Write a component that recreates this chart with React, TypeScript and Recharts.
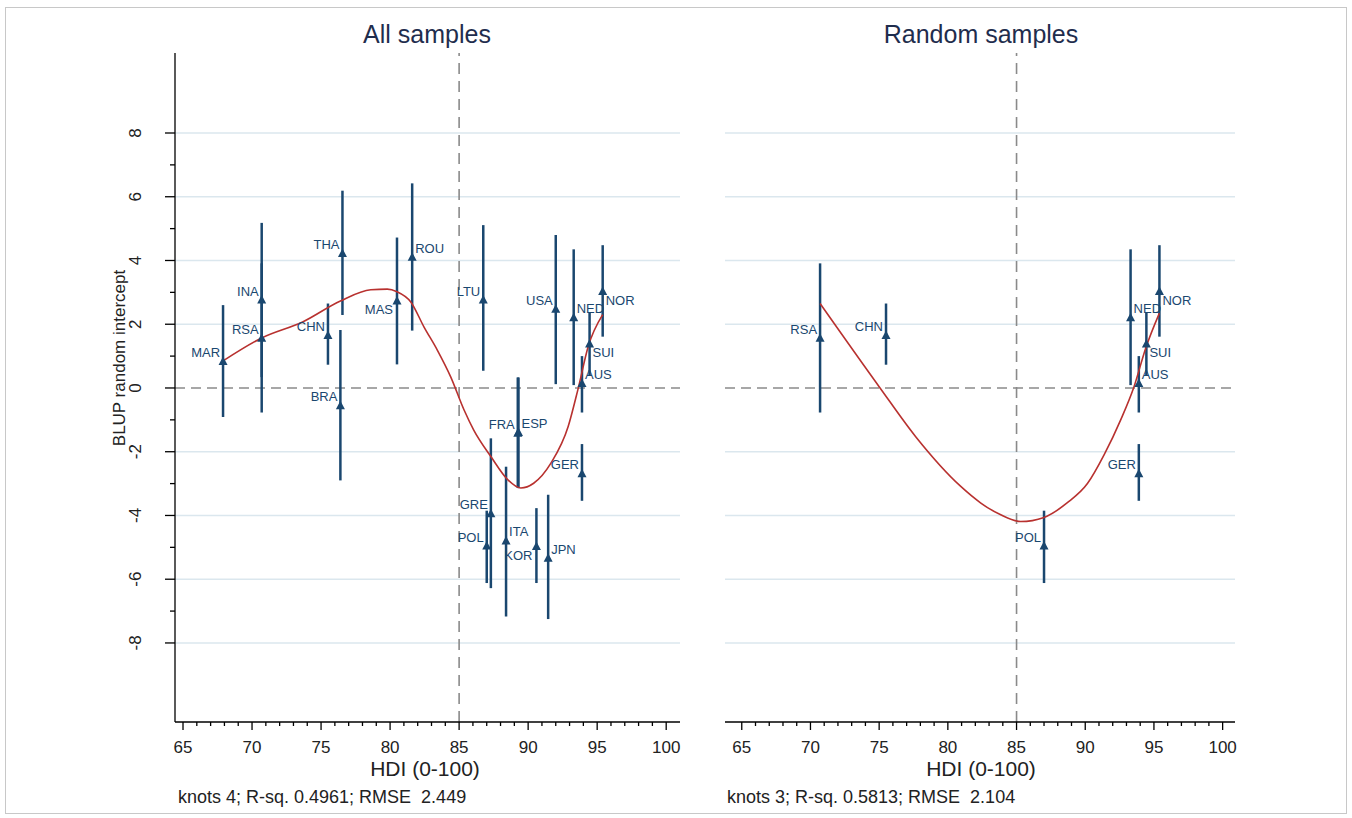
import React from 'react';
import { ComposedChart, XAxis, YAxis, Scatter, ErrorBar, Line, ReferenceLine } from 'recharts';

// ---------- data ----------
const countries = ['MAR', 'INA', 'RSA', 'CHN', 'THA', 'BRA', 'MAS', 'ROU', 'LTU', 'USA', 'NED', 'NOR', 'SUI', 'AUS', 'FRA', 'ESP', 'GER', 'GRE', 'POL', 'ITA', 'KOR', 'JPN'];
const hdi = [67.9, 70.7, 70.7, 75.5, 76.55, 76.4, 80.5, 81.6, 86.75, 92.0, 93.3, 95.4, 94.45, 93.9, 89.25, 89.3, 93.9, 87.3, 87.0, 88.4, 90.6, 91.45];
const blup = [0.83, 2.76, 1.56, 1.65, 4.22, -0.56, 2.73, 4.1, 2.76, 2.47, 2.2, 3.03, 1.38, 0.14, -1.42, -1.4, -2.69, -3.95, -4.96, -4.8, -4.97, -5.34];
const ciLower = [-0.91, 0.34, -0.77, 0.73, 2.29, -2.9, 0.74, 1.8, 0.54, 0.12, 0.09, 1.61, 0.38, -0.77, -3.14, -3.14, -3.54, -6.28, -6.12, -7.17, -6.12, -7.25];
const ciUpper = [2.6, 5.18, 3.91, 2.65, 6.19, 1.82, 4.72, 6.42, 5.11, 4.8, 4.35, 4.48, 2.38, 1.0, 0.33, 0.33, -1.76, -1.58, -3.85, -2.47, -3.77, -3.35];
const randomSampleCountries = ['RSA', 'CHN', 'NED', 'NOR', 'SUI', 'AUS', 'GER', 'POL'];

const curveAllHdi = [67.9, 70.7, 73.7, 76.4, 78.6, 79.8, 80.5, 81.5, 82.45, 83.42, 84.39, 85.36, 86.06, 87.3, 88.53, 89.47, 90.4, 91.65, 92.9, 93.6, 94.35, 95.4];
const curveAllFit = [0.85, 1.57, 2.08, 2.73, 3.08, 3.1, 3.02, 2.7, 1.92, 1.19, 0.35, -0.69, -1.32, -2.15, -2.88, -3.14, -2.99, -2.36, -1.21, -0.06, 1.3, 2.3];
const curveRandomHdi = [70.7, 75.0, 77.66, 80.94, 82.4, 83.85, 85.3, 87.0, 88.7, 90.16, 91.37, 92.58, 93.55, 94.4, 95.4];
const curveRandomFit = [2.65, 0.04, -1.53, -3.09, -3.61, -3.98, -4.19, -4.06, -3.6, -3.0, -2.1, -1.0, 0.04, 1.25, 2.35];

// label clock positions (Stata style)
const labelClock: Record<string, number> = {
  MAR: 10, INA: 10, RSA: 10, CHN: 10, THA: 10, BRA: 10, MAS: 8, ROU: 2, LTU: 10, USA: 10, NED: 2,
  NOR: 4, SUI: 4, AUS: 2, FRA: 10, ESP: 2, GER: 10, GRE: 10, POL: 10, ITA: 2, KOR: 8, JPN: 2,
};

const gridValues = [-8, -6, -4, -2, 2, 4, 6, 8];
const panelTitles = ['All samples', 'Random samples'];
const xTitle = 'HDI (0-100)';
const yTitle = 'BLUP random intercept';
const fitNotes = ['knots 4; R-sq. 0.4961; RMSE  2.449', 'knots 3; R-sq. 0.5813; RMSE  2.104'];

// ---------- derived ----------
const allPoints = countries.map((name, i) => ({
  name,
  x: hdi[i],
  y: blup[i],
  err: [blup[i] - ciLower[i], ciUpper[i] - blup[i]],
}));
const randomPoints = allPoints.filter((p) => randomSampleCountries.includes(p.name));
const curveAll = curveAllHdi.map((x, i) => ({ x, y: curveAllFit[i] }));
const curveRandom = curveRandomHdi.map((x, i) => ({ x, y: curveRandomFit[i] }));

const xTickValues: number[] = [];
for (let v = 65; v <= 100; v += 1) xTickValues.push(v);
const yTickValues: number[] = [];
for (let v = -8; v <= 8; v += 1) yTickValues.push(v);

// ---------- styles ----------
const FONT = "'Liberation Sans', Arial, Helvetica, sans-serif";
const NAVY = '#1a476f';
const RED = '#b8312f';
const GRID = '#dbe7ee';
const DASH = '#8a8a8a';
const Y_DOMAIN: [number, number] = [-10.48, 10.51];

const XTick = (props: any) => {
  const { x, y, payload } = props;
  const v = payload.value;
  const major = v % 5 === 0;
  return (
    <g>
      <line x1={x} x2={x} y1={y} y2={y + (major ? 8 : 4)} stroke="#000" strokeWidth={1.3} />
      {major && (
        <text x={x} y={y + 31} textAnchor="middle" fontSize={17} fill="#222" fontFamily={FONT}>
          {v}
        </text>
      )}
    </g>
  );
};

const YTick = (props: any) => {
  const { x, y, payload } = props;
  const v = payload.value;
  const major = v % 2 === 0;
  const lx = x - 39;
  return (
    <g>
      <line x1={x} x2={x - (major ? 10 : 5)} y1={y} y2={y} stroke="#000" strokeWidth={1.3} />
      {major && (
        <text
          x={lx}
          y={y}
          transform={`rotate(-90 ${lx} ${y})`}
          textAnchor="middle"
          dominantBaseline="central"
          fontSize={17}
          fill="#222"
          fontFamily={FONT}
        >
          {String(v)}
        </text>
      )}
    </g>
  );
};

const PointShape = (props: any) => {
  const { cx, cy, payload } = props;
  if (cx == null || cy == null) return null;
  const clock = labelClock[payload.name] ?? 10;
  let dx = -3;
  let dy = -9;
  let anchor: 'start' | 'end' = 'end';
  if (clock === 2) { dx = 3; dy = -9; anchor = 'start'; }
  else if (clock === 4) { dx = 3; dy = 9; anchor = 'start'; }
  else if (clock === 8) { dx = -4; dy = 9; anchor = 'end'; }
  return (
    <g>
      <polygon points={`${cx},${cy - 5} ${cx - 4.5},${cy + 3.5} ${cx + 4.5},${cy + 3.5}`} fill={NAVY} />
      <text
        x={cx + dx}
        y={cy + dy}
        textAnchor={anchor}
        dominantBaseline="central"
        fontSize={13}
        fill={NAVY}
        fontFamily={FONT}
      >
        {payload.name}
      </text>
    </g>
  );
};

type PanelProps = {
  points: any[];
  curve: any[];
  xDomain: [number, number];
  showYAxis: boolean;
  left: number;
  width: number;
  margin: { top: number; right: number; bottom: number; left: number };
};

const Panel = ({ points, curve, xDomain, showYAxis, left, width, margin }: PanelProps) => (
  <div style={{ position: 'absolute', left, top: 0, width, height: 818 }}>
    <ComposedChart width={width} height={818} margin={margin}>
      <XAxis
        type="number"
        dataKey="x"
        domain={xDomain}
        allowDataOverflow
        ticks={xTickValues}
        interval={0}
        tick={XTick}
        tickLine={false}
        tickSize={0}
        tickMargin={0}
        height={40}
        axisLine={{ stroke: '#000', strokeWidth: 1.3 }}
      />
      {showYAxis ? (
        <YAxis
          type="number"
          dataKey="y"
          domain={Y_DOMAIN}
          allowDataOverflow
          ticks={yTickValues}
          interval={0}
          tick={YTick}
          tickLine={false}
          tickSize={0}
          tickMargin={0}
          width={60}
          axisLine={{ stroke: '#000', strokeWidth: 1.3 }}
        />
      ) : (
        <YAxis type="number" dataKey="y" domain={Y_DOMAIN} allowDataOverflow hide />
      )}
      {gridValues.map((v) => (
        <ReferenceLine key={v} y={v} stroke={GRID} strokeWidth={1.6} />
      ))}
      <ReferenceLine y={0} stroke={DASH} strokeWidth={1.6} strokeDasharray="10 6" />
      <ReferenceLine x={85} stroke={DASH} strokeWidth={1.6} strokeDasharray="11 7" />
      <Scatter data={points} dataKey="y" shape={PointShape} isAnimationActive={false}>
        <ErrorBar dataKey="err" direction="y" width={0} stroke={NAVY} strokeWidth={2.5} isAnimationActive={false} />
      </Scatter>
      <Line
        data={curve}
        dataKey="y"
        type="monotone"
        stroke={RED}
        strokeWidth={1.6}
        dot={false}
        activeDot={false}
        isAnimationActive={false}
      />
    </ComposedChart>
  </div>
);

export default function App() {
  return (
    <div style={{ position: 'absolute', left: 0, top: 0, width: 1352, height: 818, background: '#fff', overflow: 'hidden' }}>
      <div style={{ position: 'absolute', left: 5, top: 7, width: 1340, height: 805, border: '1px solid #c8c8c8' }} />
      <Panel
        points={allPoints}
        curve={curveAll}
        xDomain={[64.42, 101.0]}
        showYAxis
        left={0}
        width={700}
        margin={{ top: 53, right: 20, bottom: 56, left: 115 }}
      />
      <Panel
        points={randomPoints}
        curve={curveRandom}
        xDomain={[63.78, 100.9]}
        showYAxis={false}
        left={700}
        width={652}
        margin={{ top: 53, right: 117, bottom: 56, left: 25 }}
      />
      <svg width={1352} height={818} style={{ position: 'absolute', left: 0, top: 0, pointerEvents: 'none' }}>
        <text x={427} y={43} textAnchor="middle" fontSize={25} fill="#1f2d4d" fontFamily={FONT}>{panelTitles[0]}</text>
        <text x={981} y={43} textAnchor="middle" fontSize={25} fill="#1f2d4d" fontFamily={FONT}>{panelTitles[1]}</text>
        <text x={425} y={776} textAnchor="middle" fontSize={21} fill="#222" fontFamily={FONT}>{xTitle}</text>
        <text x={981} y={776} textAnchor="middle" fontSize={21} fill="#222" fontFamily={FONT}>{xTitle}</text>
        <text
          x={119}
          y={358}
          transform="rotate(-90 119 358)"
          textAnchor="middle"
          dominantBaseline="central"
          fontSize={17}
          fill="#222"
          fontFamily={FONT}
        >
          {yTitle}
        </text>
        <text x={178} y={803} fontSize={18} fill="#222" fontFamily={FONT} xmlSpace="preserve" style={{ whiteSpace: 'pre' }}>{fitNotes[0]}</text>
        <text x={727} y={803} fontSize={18} fill="#222" fontFamily={FONT} xmlSpace="preserve" style={{ whiteSpace: 'pre' }}>{fitNotes[1]}</text>
      </svg>
    </div>
  );
}
